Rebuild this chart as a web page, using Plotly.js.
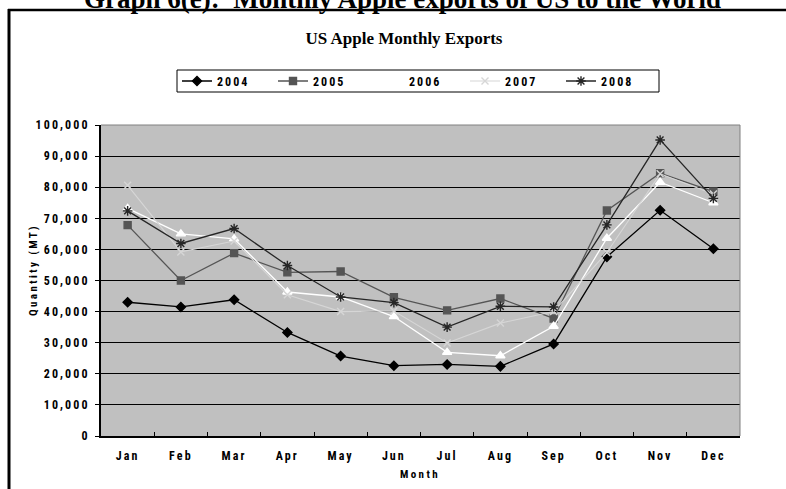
<!DOCTYPE html>
<html>
<head>
<meta charset="utf-8">
<script src="https://cdn.plot.ly/plotly-3.0.1.min.js"></script>
<style>
  html, body { margin: 0; padding: 0; background: #ffffff; }
  #chart { width: 786px; height: 489px; }
  /* spaced-out condensed lettering on ticks, legend and axis titles */
  .xtick text, .ytick text { letter-spacing: 2.1px; font-stretch: extra-condensed; }
  .legendtext { letter-spacing: 2px; font-stretch: extra-condensed; }
  .annotation-text { font-stretch: extra-condensed; }
</style>
</head>
<body>
<div id="chart"></div>
<script>
// Monthly apple exports (metric tonnes), US to the world
const months = ['Jan', 'Feb', 'Mar', 'Apr', 'May', 'Jun', 'Jul', 'Aug', 'Sep', 'Oct', 'Nov', 'Dec'];
const years = ['2004', '2005', '2006', '2007', '2008'];
const exports2004 = [43000, 41500, 43800, 33300, 25700, 22600, 23000, 22400, 29600, 57600, 72600, 60200];
const exports2005 = [67800, 50000, 58800, 52600, 52900, 44600, 40400, 44200, 37800, 72500, 84500, 78600];
const exports2006 = [73200, 65000, 63400, 46300, 44700, 38400, 26900, 25800, 35300, 63600, 81600, 75000];
const exports2007 = [80600, 59200, 62700, 45400, 40000, 40200, 29900, 36300, 40000, 59000, 84300, 77800];
const exports2008 = [72400, 61900, 66700, 54800, 44700, 42900, 35000, 41700, 41500, 67900, 95200, 76400];

const W = 786, H = 489;
const M = { l: 101, r: 46, t: 125, b: 53 };
const plotW = W - M.l - M.r, plotH = H - M.t - M.b;
// pixel -> paper coordinate helpers
const px = x => (x - M.l) / plotW;
const py = y => (H - M.b - y) / plotH;

const narrow = "'Roboto Condensed', 'Noto Sans', 'DejaVu Sans Condensed', sans-serif";
const serif = "'Liberation Serif', 'Times New Roman', serif";

const seriesStyle = [
  { color: '#000000', symbol: 'diamond', size: 7, lw: 1.3 },
  { color: '#555555', symbol: 'square', size: 7, lw: 1.3 },
  { color: '#ffffff', symbol: 'triangle-up', size: 8, lw: 1.3 },
  { color: '#d6d6d6', symbol: 'x-thin-open', size: 7, lw: 1.1 },
  { color: '#262626', symbol: 'asterisk-open', size: 8, lw: 1.3 }
];
const seriesData = [exports2004, exports2005, exports2006, exports2007, exports2008];

const traces = seriesData.map((vals, i) => {
  const s = seriesStyle[i];
  return {
    type: 'scatter',
    mode: 'lines+markers',
    name: years[i],
    x: months,
    y: vals,
    line: { color: s.color, width: s.lw },
    marker: { symbol: s.symbol, size: s.size, color: s.color, line: { color: s.color, width: 1.4 } },
    hoverinfo: 'x+y+name'
  };
});

const layout = {
  width: W,
  height: H,
  margin: M,
  paper_bgcolor: '#ffffff',
  plot_bgcolor: '#c0c0c0',
  showlegend: true,
  title: {
    text: 'US Apple Monthly Exports',
    font: { family: serif, size: 17, color: '#000000', weight: 'bold' },
    x: 404 / W, xanchor: 'center', xref: 'container',
    y: 1 - 38 / H, yanchor: 'middle', yref: 'container'
  },
  legend: {
    orientation: 'h',
    x: px(177), xanchor: 'left',
    y: py(81), yanchor: 'middle',
    bgcolor: 'rgba(0,0,0,0)',
    borderwidth: 0,
    entrywidth: 51,
    entrywidthmode: 'pixels',
    itemwidth: 30,
    font: { family: narrow, size: 12, color: '#000000', weight: 'bold' }
  },
  xaxis: {
    type: 'category',
    range: [-0.5, 11.5],
    tickson: 'boundaries',
    ticks: 'inside',
    ticklen: 4,
    tickwidth: 1,
    tickcolor: '#000000',
    showline: true,
    linecolor: '#000000',
    linewidth: 2,
    showgrid: false,
    zeroline: false,
    ticklabelstandoff: 8,
    tickfont: { family: narrow, size: 12, color: '#000000', weight: 'bold' },
    fixedrange: true
  },
  yaxis: {
    range: [0, 100000],
    dtick: 10000,
    tickformat: ',d',
    ticks: 'outside',
    ticklen: 4,
    tickwidth: 1,
    tickcolor: '#000000',
    showline: true,
    linecolor: '#000000',
    linewidth: 2,
    showgrid: true,
    gridcolor: '#000000',
    gridwidth: 1,
    zeroline: false,
    ticklabelstandoff: 3,
    tickfont: { family: narrow, size: 12, color: '#000000', weight: 'bold' },
    fixedrange: true
  },
  shapes: [
    // legend frame
    { type: 'rect', xref: 'paper', yref: 'paper', layer: 'below', x0: px(177), x1: px(659), y0: py(92), y1: py(70), fillcolor: '#ffffff', line: { color: '#000000', width: 1 } },
    // plot-area top and right edges
    { type: 'line', xref: 'paper', yref: 'paper', x0: 0, x1: 1, y0: 1, y1: 1, line: { color: '#808080', width: 1 } },
    { type: 'line', xref: 'paper', yref: 'paper', x0: 1, x1: 1, y0: 0, y1: 1, line: { color: '#808080', width: 1 } },
    // outer frame around the chart
    { type: 'line', xref: 'paper', yref: 'paper', x0: px(9), x1: px(9), y0: py(9), y1: py(500), line: { color: '#000000', width: 3 } },
    { type: 'line', xref: 'paper', yref: 'paper', x0: px(8), x1: px(800), y0: py(10), y1: py(10), line: { color: '#000000', width: 2.5 } }
  ],
  annotations: [
    {
      text: 'Graph 6(e):  Monthly Apple exports of US to the World',
      xref: 'paper', yref: 'paper',
      x: px(402), y: py(-1), xanchor: 'center', yanchor: 'middle',
      showarrow: false,
      font: { family: serif, size: 27, color: '#000000', weight: 'bold' }
    },
    {
      text: '<span style="letter-spacing:2.4px">Quantity (MT)</span>',
      xref: 'paper', yref: 'paper',
      x: px(33), y: py(270), xanchor: 'center', yanchor: 'middle',
      textangle: -90,
      showarrow: false,
      font: { family: narrow, size: 11, color: '#000000', weight: 'bold' }
    },
    {
      text: '<span style="letter-spacing:2.4px">Month</span>',
      xref: 'paper', yref: 'paper',
      x: px(420), y: py(474), xanchor: 'center', yanchor: 'middle',
      showarrow: false,
      font: { family: narrow, size: 11, color: '#000000', weight: 'bold' }
    }
  ]
};

Plotly.newPlot('chart', traces, layout, { displayModeBar: false, staticPlot: true });
</script>
</body>
</html>
